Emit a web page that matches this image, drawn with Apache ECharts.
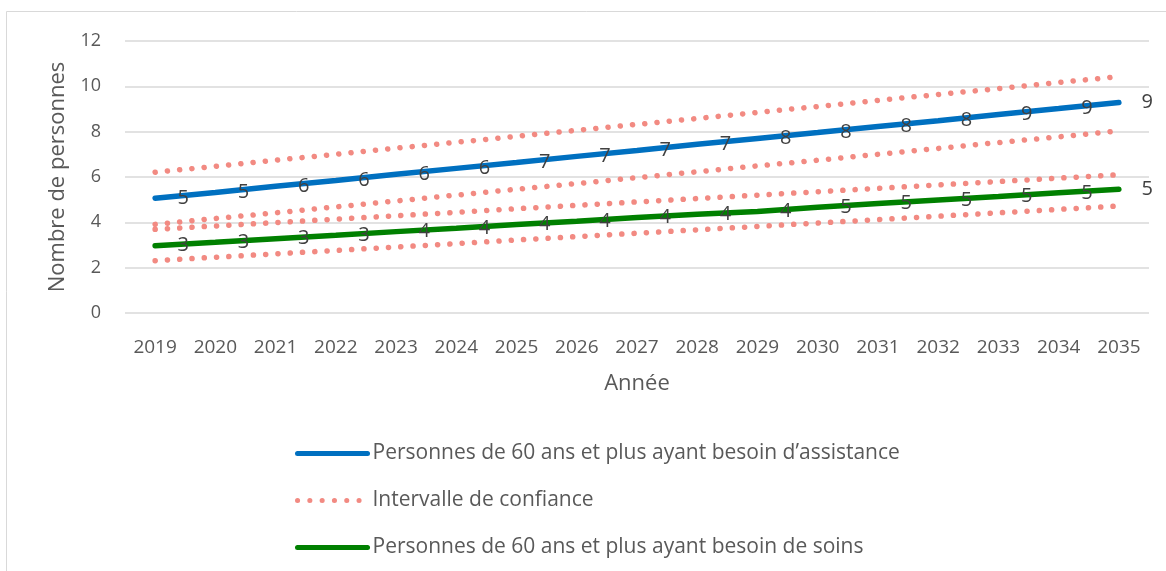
<!DOCTYPE html>
<html>
<head>
<meta charset="utf-8">
<script src="https://cdn.jsdelivr.net/npm/echarts@6/dist/echarts.min.js"></script>
<style>
html,body{margin:0;padding:0;background:#fff;}
#chart{width:1166px;height:571px;}
</style>
</head>
<body>
<div id="chart"></div>
<script>
const years = ['2019','2020','2021','2022','2023','2024','2025','2026','2027','2028','2029','2030','2031','2032','2033','2034','2035'];
const assistance = [5.06,5.32,5.59,5.85,6.12,6.38,6.64,6.91,7.17,7.44,7.70,7.96,8.23,8.48,8.76,9.02,9.29];
const soins = [2.97,3.12,3.28,3.43,3.59,3.74,3.90,4.05,4.21,4.36,4.48,4.67,4.83,4.99,5.14,5.30,5.46];
const ciAssistanceHigh = [6.21,6.47,6.74,7.00,7.27,7.53,7.79,8.06,8.32,8.58,8.85,9.11,9.38,9.64,9.90,10.17,10.43];
const ciAssistanceLow = [3.91,4.17,4.42,4.68,4.94,5.20,5.46,5.71,5.97,6.23,6.49,6.74,7.00,7.26,7.52,7.77,8.03];
const ciSoinsHigh = [3.69,3.84,3.99,4.14,4.29,4.44,4.60,4.75,4.90,5.05,5.20,5.35,5.50,5.65,5.80,5.95,6.10];
const ciSoinsLow = [2.31,2.46,2.61,2.76,2.91,3.06,3.22,3.37,3.52,3.67,3.82,3.97,4.12,4.27,4.42,4.57,4.72];
const yTicks = [0,2,4,6,8,10,12];

const nameA = 'Personnes de 60 ans et plus ayant besoin d’assistance';
const nameCI = 'Intervalle de confiance';
const nameS = 'Personnes de 60 ans et plus ayant besoin de soins';
const FONT = 'Open Sans';
const ciColor = '#F28A82';
const ciDash = [0.1, 12.2];

function ciSeries(data){
  return {
    name: nameCI, type: 'line', data: data, symbol: 'none', smooth: false,
    lineStyle: {color: ciColor, width: 5.5, type: ciDash, cap: 'round'},
    itemStyle: {color: ciColor},
    emphasis: {disabled: true}, z: 2
  };
}
function mainSeries(name, data, color){
  return {
    name: name, type: 'line', data: data,
    symbol: 'circle', symbolSize: 1, showSymbol: true,
    lineStyle: {color: color, width: 5.5, cap: 'round'},
    itemStyle: {color: color},
    label: {show: true, position: 'right', distance: 22, offset: [0, 7],
      color: '#404040', fontSize: 20, fontFamily: FONT,
      formatter: p => String(Math.round(p.value))},
    labelLayout: {hideOverlap: false},
    emphasis: {disabled: true}, z: 3
  };
}

const chart = echarts.init(document.getElementById('chart'), null, {renderer: 'canvas'});
chart.setOption({
  animation: false,
  backgroundColor: '#fff',
  textStyle: {fontFamily: FONT},
  graphic: [{type: 'rect', shape: {x: 6.5, y: 11.5, width: 1300, height: 700},
    style: {fill: 'none', stroke: '#D9D9D9', lineWidth: 1}, silent: true, z: -10}],
  grid: {left: 125, right: 17, top: 41, bottom: 258},
  legend: {
    orient: 'vertical', left: 290, top: 437, itemWidth: 70, itemHeight: 14, itemGap: 24,
    data: [
      {name: nameA, itemStyle: {opacity: 0}, lineStyle: {width: 5, color: '#0070C0', cap: 'round'}},
      {name: nameCI, itemStyle: {opacity: 0}, lineStyle: {width: 5, color: ciColor, type: ciDash, cap: 'round'}},
      {name: nameS, itemStyle: {opacity: 0}, lineStyle: {width: 5, color: '#008000', cap: 'round'}}
    ],
    textStyle: {color: '#595959', fontSize: 21, fontFamily: FONT, lineHeight: 23},
    selectedMode: false
  },
  xAxis: {
    type: 'category', data: years, boundaryGap: true,
    axisLine: {show: false}, axisTick: {show: false},
    axisLabel: {color: '#595959', fontSize: 19, fontFamily: FONT, margin: 25, interval: 0},
    name: 'Année', nameLocation: 'middle', nameGap: 60,
    nameTextStyle: {color: '#595959', fontSize: 22, fontFamily: FONT}
  },
  yAxis: {
    type: 'value', min: yTicks[0], max: yTicks[yTicks.length-1], interval: 2,
    axisLine: {show: false}, axisTick: {show: false},
    splitLine: {lineStyle: {color: '#D9D9D9', width: 1.5}},
    axisLabel: {color: '#595959', fontSize: 18, fontFamily: FONT, margin: 24},
    name: 'Nombre de personnes', nameLocation: 'middle', nameGap: 56,
    nameTextStyle: {color: '#595959', fontSize: 22, fontFamily: FONT}
  },
  series: [
    ciSeries(ciAssistanceHigh),
    ciSeries(ciAssistanceLow),
    ciSeries(ciSoinsHigh),
    ciSeries(ciSoinsLow),
    mainSeries(nameA, assistance, '#0070C0'),
    mainSeries(nameS, soins, '#008000')
  ]
});
</script>
</body>
</html>
